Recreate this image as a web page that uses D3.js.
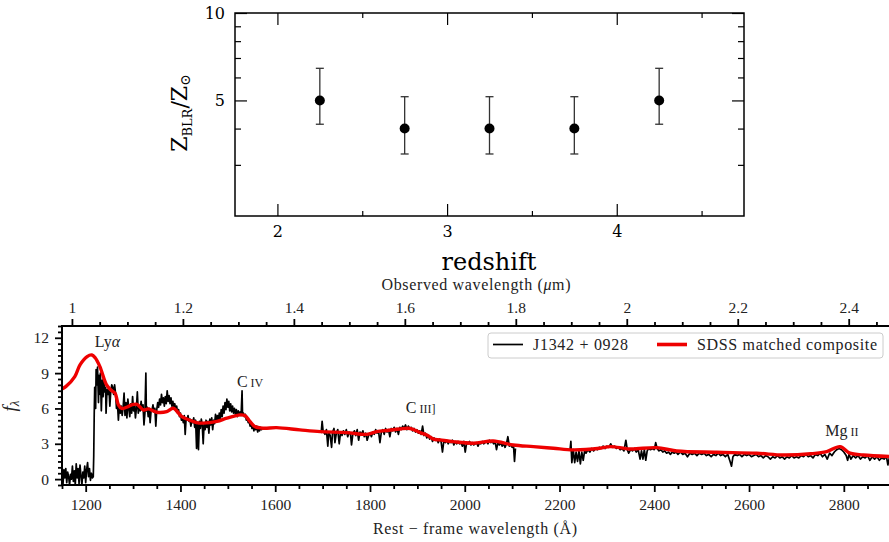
<!DOCTYPE html>
<html><head><meta charset="utf-8">
<script src="https://cdn.jsdelivr.net/npm/d3@7"></script>
<style>body{margin:0;background:#fff}svg{display:block}</style>
</head><body>
<svg id="c" width="889" height="542"></svg>
<script>
// ---------- top panel data ----------
const redshift = [2.25, 2.75, 3.25, 3.75, 4.25];
const zRatio   = [5, 4, 4, 4, 5];
const zLow     = [4.14, 3.27, 3.27, 3.27, 4.14];
const zHigh    = [6.45, 5.15, 5.15, 5.15, 6.45];
const zXMajor  = [2, 3, 4];
const zXMinor  = [2.5, 3.5, 4.5];
const zYMajor  = [5, 10];
const zYMinor  = [3, 4, 6, 7, 8, 9];

// ---------- bottom panel data ----------
const restMajor = [1200, 1400, 1600, 1800, 2000, 2200, 2400, 2600, 2800];
const obsMajor  = [1, 1.2, 1.4, 1.6, 1.8, 2, 2.2, 2.4];
const fluxMajor = [0, 3, 6, 9, 12];
const zQSO = 7.54;

// composite (red) [rest wavelength, f_lambda]
const compLam = [1150,1158,1177,1188,1203,1213,1220,1230,1244,1255,1262,1269,1276,1286,1297,1308,1322,1332,1350,1371,1385,1403,1420,1434,1448,1477,1498,1526,1536,1547,1557,1575,1603,1652,1695,1750,1793,1814,1840,1863,1885,1906,1920,1934,1948,1976,2018,2060,2102,2145,2187,2229,2285,2307,2349,2405,2447,2532,2616,2672,2730,2764,2792,2813,2841,2900];
const compFlux = [7.66,7.85,8.7,9.7,10.4,10.54,10.3,9.55,8.0,7.5,7.3,6.3,6.0,6.1,6.3,6.35,5.87,5.96,5.68,5.73,6.02,5.3,5.0,4.8,4.75,4.9,5.17,5.45,5.4,4.88,4.46,4.32,4.37,4.18,4.03,3.95,3.8,4.03,4.15,4.26,4.3,3.95,3.75,3.4,3.33,3.18,3.05,3.24,2.9,2.76,2.62,2.48,2.62,2.76,2.56,2.67,2.39,2.28,2.2,2.05,2.15,2.33,2.76,2.2,2.05,1.91];

// observed spectrum J1342+0928, segment 1 (1150-1575 A)
const spec1 = [[1150,0.2],[1152,-0.5],[1154,0.8],[1156,0.1],[1158,0.9],[1160,-0.3],[1162,0.6],[1164,0.2],[1166,-0.5],[1168,0.4],[1170,0.0],[1172,1.1],[1174,-0.2],[1176,0.7],[1178,-0.5],[1180,1.3],[1182,0.1],[1184,0.9],[1186,-0.4],[1188,1.2],[1190,0.3],[1192,-0.5],[1194,0.6],[1196,0.1],[1198,1.1],[1200,-0.3],[1202,0.8],[1204,1.4],[1206,0.2],[1208,0.9],[1210,-0.1],[1212,0.5],[1214,0.1],[1216,0.2],
[1217,2.0],[1218,5.5],[1219,7.8],[1221,6.0],[1222,9.3],[1224,8.0],[1225,9.5],[1227,6.5],[1228,8.8],[1230,7.2],[1231,9.0],[1233,5.8],[1235,8.4],[1237,7.0],[1238,8.6],[1240,7.4],[1242,7.8],[1243,5.6],[1245,7.6],[1247,7.2],[1249,7.8],[1251,6.2],[1253,7.5],[1255,8.0],[1257,7.8],[1259,7.2],[1261,8.0],[1263,7.3],[1265,6.0],[1267,6.5],[1269,5.0],[1271,6.3],[1273,5.6],[1275,6.2],[1277,5.4],[1279,6.1],[1281,7.3],[1283,5.4],[1285,6.5],[1287,5.2],[1289,6.8],[1291,6.0],[1293,5.3],[1295,6.4],[1297,5.6],[1299,7.0],[1301,5.8],[1303,6.3],[1305,5.2],[1307,6.0],[1309,7.4],[1311,5.6],[1313,6.2],[1315,5.8],[1317,6.6],[1319,5.9],[1321,6.3],[1323,4.6],[1325,5.6],[1327,9.0],[1328,5.8],[1330,6.1],[1332,5.3],[1334,6.0],[1336,4.8],[1338,5.8],[1340,5.9],[1342,6.3],[1344,5.7],[1346,6.0],[1348,4.5],[1350,5.9],[1352,6.5],[1354,6.1],[1356,6.8],[1358,6.3],[1360,7.2],[1362,6.5],[1364,6.9],[1366,6.2],[1368,7.0],[1370,6.4],[1372,7.5],[1374,6.6],[1376,7.1],[1378,6.4],[1380,6.9],[1382,6.2],[1384,6.6],[1386,6.0],[1388,6.4],[1390,5.8],[1392,6.2],[1394,5.6],[1396,5.9],[1398,5.3],[1400,5.6],[1402,5.0],[1404,5.3],[1406,4.8],[1408,5.4],[1410,3.8],[1412,5.2],[1414,5.0],[1416,5.4],[1418,4.9],[1420,5.1],[1422,4.5],[1424,5.0],[1426,4.8],[1428,5.2],[1430,4.4],[1432,5.0],[1434,2.6],[1436,4.7],[1438,2.5],[1440,4.9],[1442,4.3],[1444,5.1],[1446,4.6],[1448,3.0],[1450,4.8],[1452,4.2],[1454,5.0],[1456,4.4],[1458,4.9],[1460,3.9],[1462,5.1],[1464,4.6],[1466,5.2],[1468,4.2],[1470,5.0],[1472,4.7],[1474,5.5],[1476,4.9],[1478,5.4],[1480,5.0],[1482,5.6],[1484,5.1],[1486,5.9],[1488,5.3],[1490,6.2],[1492,5.6],[1494,6.5],[1496,5.9],[1498,6.8],[1500,6.1],[1502,6.6],[1504,5.8],[1506,6.4],[1508,5.7],[1510,6.2],[1512,5.6],[1514,6.0],[1516,5.5],[1518,5.9],[1520,5.3],[1522,5.8],[1524,5.5],[1526,5.7],[1528,5.4],[1530,7.5],[1531,5.5],[1533,5.6],[1535,5.3],[1537,5.5],[1539,5.0],[1541,5.2],[1543,4.8],[1545,4.9],[1547,4.5],[1549,4.7],[1551,4.3],[1553,4.5],[1555,4.1],[1557,4.4],[1559,4.2],[1561,4.5],[1563,4.0],[1565,4.3],[1567,4.1],[1569,4.4],[1571,4.2],[1573,4.3]];

// segment 2 (1697-2107 A)
const spec2 = [[1697,3.9],[1699,4.9],[1701,4.1],[1705,3.8],[1708,4.2],[1711,2.8],[1713,4.0],[1716,3.7],[1719,2.7],[1721,4.0],[1724,4.3],[1726,3.1],[1729,3.9],[1732,4.2],[1735,3.0],[1738,4.0],[1741,3.7],[1744,4.1],[1747,3.8],[1750,4.2],[1753,3.6],[1756,4.0],[1759,3.8],[1761,2.9],[1764,3.9],[1767,4.1],[1770,3.7],[1773,4.2],[1776,3.3],[1779,4.0],[1782,3.8],[1785,4.1],[1788,3.6],[1791,3.9],[1794,3.3],[1797,3.7],[1800,3.9],[1803,3.6],[1806,4.0],[1809,3.8],[1812,4.2],[1815,3.9],[1818,4.1],[1821,3.1],[1824,4.0],[1827,4.2],[1830,3.8],[1833,4.3],[1836,4.0],[1839,4.2],[1842,3.6],[1845,4.3],[1848,4.1],[1851,4.4],[1854,4.0],[1857,4.3],[1860,3.8],[1863,4.4],[1866,4.2],[1869,4.5],[1872,4.3],[1875,4.6],[1878,4.2],[1881,4.5],[1884,4.3],[1887,4.4],[1890,4.1],[1893,4.3],[1896,4.0],[1899,4.2],[1902,3.9],[1905,4.1],[1908,3.8],[1911,4.5],[1914,3.7],[1917,3.9],[1920,3.5],[1923,3.7],[1926,3.4],[1929,3.6],[1932,3.2],[1935,3.5],[1938,3.3],[1941,3.4],[1944,3.1],[1947,3.4],[1950,3.2],[1953,2.3],[1956,3.3],[1959,3.1],[1962,3.3],[1965,3.0],[1968,3.2],[1971,3.1],[1974,3.3],[1977,2.9],[1980,3.2],[1983,3.0],[1986,3.2],[1989,3.0],[1992,3.1],[1995,2.8],[1998,3.2],[2001,2.3],[2004,3.1],[2007,3.0],[2010,3.2],[2013,2.9],[2016,3.1],[2019,2.9],[2022,3.0],[2025,3.1],[2028,2.8],[2031,3.1],[2034,3.0],[2037,3.2],[2040,3.0],[2043,3.1],[2046,3.2],[2049,3.0],[2052,3.3],[2055,3.1],[2058,3.2],[2061,3.0],[2064,3.2],[2067,2.5],[2070,3.1],[2073,2.9],[2076,3.1],[2079,2.8],[2082,3.0],[2085,2.7],[2088,3.0],[2091,3.6],[2094,2.8],[2097,2.9],[2100,2.7],[2103,2.8],[2105,1.5],[2107,2.6]];

// segment 3 (2222-2900 A)
const spec3 = [[2222,2.4],[2224,3.2],[2226,1.4],[2229,2.5],[2232,1.4],[2235,2.3],[2238,1.5],[2241,2.4],[2244,1.3],[2247,2.3],[2250,1.6],[2253,2.4],[2256,2.2],[2260,2.5],[2264,2.3],[2268,2.6],[2272,2.4],[2276,2.6],[2280,2.5],[2284,2.7],[2288,2.6],[2292,2.8],[2296,2.6],[2300,2.8],[2304,2.7],[2308,3.0],[2312,2.7],[2316,2.8],[2320,2.6],[2324,2.7],[2328,2.5],[2332,2.6],[2336,2.4],[2340,3.3],[2343,2.5],[2346,2.2],[2350,2.5],[2354,2.4],[2358,2.6],[2362,2.3],[2366,2.5],[2370,1.7],[2373,2.4],[2376,1.7],[2379,2.5],[2382,1.6],[2385,2.4],[2388,2.6],[2392,2.5],[2396,2.6],[2400,2.5],[2403,3.1],[2406,2.6],[2410,2.4],[2414,2.5],[2418,2.3],[2422,2.4],[2426,2.2],[2430,2.3],[2434,2.1],[2438,2.3],[2442,2.2],[2446,2.3],[2450,2.1],[2455,2.3],[2460,2.1],[2465,2.2],[2470,1.9],[2475,2.2],[2480,2.1],[2485,2.2],[2490,2.0],[2495,2.2],[2500,2.1],[2505,2.2],[2510,2.0],[2515,2.1],[2520,1.9],[2525,2.1],[2530,2.0],[2535,2.2],[2540,2.0],[2545,2.1],[2550,1.9],[2555,2.1],[2560,1.5],[2563,1.1],[2566,1.9],[2570,2.1],[2575,2.0],[2580,2.1],[2585,1.9],[2590,2.1],[2595,2.0],[2600,2.1],[2605,1.9],[2610,2.0],[2615,2.1],[2620,1.9],[2625,2.0],[2630,1.8],[2635,2.0],[2640,1.9],[2645,1.7],[2650,1.9],[2655,1.8],[2660,2.0],[2665,1.8],[2670,1.9],[2675,1.7],[2680,1.9],[2685,1.8],[2690,2.0],[2695,1.8],[2700,1.9],[2705,1.8],[2710,2.0],[2715,1.9],[2720,2.1],[2725,1.9],[2730,2.0],[2735,1.8],[2740,2.1],[2745,2.0],[2750,2.2],[2755,1.9],[2760,2.1],[2765,1.7],[2770,2.2],[2775,2.0],[2780,2.3],[2785,2.5],[2790,2.6],[2795,2.5],[2800,2.3],[2805,2.0],[2808,1.6],[2811,2.1],[2815,1.7],[2820,2.0],[2825,1.8],[2830,2.0],[2835,1.7],[2840,1.9],[2845,1.8],[2850,2.0],[2855,1.6],[2860,1.9],[2865,1.7],[2870,1.9],[2875,1.6],[2880,1.8],[2885,1.7],[2890,1.9],[2893,1.2],[2896,1.8],[2900,1.7]];

const lineLabels = [
  {lam: 1246, f: 11.22, main: "Ly", greek: "α", sc: ""},
  {lam: 1547, f: 7.83,  main: "C", sc: "IV"},
  {lam: 1907, f: 5.62,  main: "C", sc: "III]"},
  {lam: 2796, f: 3.67,  main: "Mg", sc: "II"}
];

const svg = d3.select("#c");
const topFont = "'DejaVu Serif', serif";
const botFont = "'Liberation Serif', 'Times New Roman', serif";

// ================= TOP PANEL =================
const tx = d3.scaleLinear().domain([1.75, 4.75]).range([235, 744]);
const ty = d3.scaleLog().domain([2, 10]).range([216, 13]);
const topG = svg.append("g");

function styleAxis(g, font, size) {
  g.select(".domain").remove();
  g.selectAll("line").attr("stroke", "#000").attr("stroke-width", 1.2);
  g.selectAll("text").attr("font-family", font).attr("font-size", size).attr("fill", "#000");
}
topG.append("g").attr("transform", "translate(0,216)")
  .call(d3.axisBottom(tx).tickValues(zXMajor).tickFormat(d3.format("d")).tickSizeInner(-12).tickSizeOuter(0).tickPadding(10))
  .call(g => styleAxis(g, topFont, 16));
topG.append("g").attr("transform", "translate(0,216)")
  .call(d3.axisBottom(tx).tickValues(zXMinor).tickFormat("").tickSizeInner(-5).tickSizeOuter(0))
  .call(g => styleAxis(g, topFont, 16));
topG.append("g").attr("transform", "translate(0,13)")
  .call(d3.axisTop(tx).tickValues(zXMajor).tickFormat("").tickSizeInner(-12).tickSizeOuter(0))
  .call(g => styleAxis(g, topFont, 16));
topG.append("g").attr("transform", "translate(0,13)")
  .call(d3.axisTop(tx).tickValues(zXMinor).tickFormat("").tickSizeInner(-5).tickSizeOuter(0))
  .call(g => styleAxis(g, topFont, 16));
topG.append("g").attr("transform", "translate(235,0)")
  .call(d3.axisLeft(ty).tickValues(zYMajor).tickFormat(d3.format("d")).tickSizeInner(-12).tickSizeOuter(0).tickPadding(10))
  .call(g => styleAxis(g, topFont, 16));
topG.append("g").attr("transform", "translate(235,0)")
  .call(d3.axisLeft(ty).tickValues(zYMinor).tickFormat("").tickSizeInner(-6).tickSizeOuter(0))
  .call(g => styleAxis(g, topFont, 16));
topG.append("g").attr("transform", "translate(744,0)")
  .call(d3.axisRight(ty).tickValues(zYMajor).tickFormat("").tickSizeInner(-12).tickSizeOuter(0))
  .call(g => styleAxis(g, topFont, 16));
topG.append("g").attr("transform", "translate(744,0)")
  .call(d3.axisRight(ty).tickValues(zYMinor).tickFormat("").tickSizeInner(-6).tickSizeOuter(0))
  .call(g => styleAxis(g, topFont, 16));
topG.append("rect").attr("x", 235).attr("y", 13).attr("width", 744 - 235).attr("height", 216 - 13)
  .attr("fill", "none").attr("stroke", "#000").attr("stroke-width", 1.5);

const pts = redshift.map((z, i) => ({z, v: zRatio[i], lo: zLow[i], hi: zHigh[i]}));
const eb = topG.append("g").attr("stroke", "#333").attr("stroke-width", 1.3);
eb.selectAll("line.v").data(pts).join("line").attr("class", "v")
  .attr("x1", d => tx(d.z)).attr("x2", d => tx(d.z)).attr("y1", d => ty(d.lo)).attr("y2", d => ty(d.hi));
eb.selectAll("line.h").data(pts).join("line").attr("class", "h")
  .attr("x1", d => tx(d.z) - 4).attr("x2", d => tx(d.z) + 4).attr("y1", d => ty(d.hi)).attr("y2", d => ty(d.hi));
eb.selectAll("line.l").data(pts).join("line").attr("class", "l")
  .attr("x1", d => tx(d.z) - 4).attr("x2", d => tx(d.z) + 4).attr("y1", d => ty(d.lo)).attr("y2", d => ty(d.lo));
topG.selectAll("circle").data(pts).join("circle")
  .attr("cx", d => tx(d.z)).attr("cy", d => ty(d.v)).attr("r", 5).attr("fill", "#000");

topG.append("text").attr("x", 489).attr("y", 270).attr("text-anchor", "middle")
  .attr("font-family", topFont).attr("font-size", 24).attr("font-weight", "normal").text("redshift");
const yl = topG.append("text").attr("transform", "translate(187,113) rotate(-90)").attr("text-anchor", "middle")
  .attr("font-family", topFont).attr("font-size", 22);
yl.append("tspan").text("Z");
yl.append("tspan").attr("font-size", 13).attr("dy", 5).text("BLR");
yl.append("tspan").attr("dy", -5).text("/Z");
yl.append("tspan").attr("font-size", 14).attr("dy", 3).text("⊙");

// ================= BOTTOM PANEL =================
const L = 62, R = 891.2, T = 326, B = 485;
const bx = d3.scaleLinear().domain([1150, 2900]).range([L, R]);
const bxObs = d3.scaleLinear().domain([1150 * (1 + zQSO) / 1e4, 2900 * (1 + zQSO) / 1e4]).range([L, R]);
const by = d3.scaleLinear().domain([-0.5, 13]).range([B, T]);
const bot = svg.append("g");

const restMinor = d3.range(1150, 2901, 50).filter(v => !restMajor.includes(v));
const obsMinor = d3.range(1, 2.48, 0.05).map(v => +v.toFixed(2)).filter(v => !obsMajor.some(m => Math.abs(m - v) < 1e-6));
const fluxMinor = d3.range(-0.5, 13.01, 0.5).filter(v => !fluxMajor.includes(v));

function styleB(g) {
  g.select(".domain").remove();
  g.selectAll("line").attr("stroke", "#000").attr("stroke-width", 1.8);
  g.selectAll("text").attr("font-family", botFont).attr("font-size", 15.5).attr("fill", "#222");
}
bot.append("g").attr("transform", `translate(0,${B})`)
  .call(d3.axisBottom(bx).tickValues(restMajor).tickFormat(d3.format("d")).tickSizeInner(7).tickSizeOuter(0).tickPadding(7))
  .call(styleB);
bot.append("g").attr("transform", `translate(0,${B})`)
  .call(d3.axisBottom(bx).tickValues(restMinor).tickFormat("").tickSizeInner(4).tickSizeOuter(0))
  .call(styleB);
bot.append("g").attr("transform", `translate(0,${T})`)
  .call(d3.axisTop(bxObs).tickValues(obsMajor).tickFormat(d => d3.format("~g")(d)).tickSizeInner(7).tickSizeOuter(0).tickPadding(6))
  .call(styleB);
bot.append("g").attr("transform", `translate(0,${T})`)
  .call(d3.axisTop(bxObs).tickValues(obsMinor).tickFormat("").tickSizeInner(4).tickSizeOuter(0))
  .call(styleB);
bot.append("g").attr("transform", `translate(${L},0)`)
  .call(d3.axisLeft(by).tickValues(fluxMajor).tickFormat(d3.format("d")).tickSizeInner(7).tickSizeOuter(0).tickPadding(6))
  .call(styleB);
bot.append("g").attr("transform", `translate(${L},0)`)
  .call(d3.axisLeft(by).tickValues(fluxMinor).tickFormat("").tickSizeInner(4).tickSizeOuter(0))
  .call(styleB);

svg.append("defs").append("clipPath").attr("id", "clipB")
  .append("rect").attr("x", L).attr("y", T).attr("width", R - L).attr("height", B - T);
const plot = bot.append("g").attr("clip-path", "url(#clipB)");

const specLine = d3.line().x(d => bx(d[0])).y(d => by(d[1]));
[spec1, spec2, spec3].forEach(seg => {
  plot.append("path").datum(seg).attr("d", specLine)
    .attr("fill", "none").attr("stroke", "#000").attr("stroke-width", 1.7).attr("stroke-linejoin", "round");
});
const comp = compLam.map((l, i) => [l, compFlux[i]]);
plot.append("path").datum(comp)
  .attr("d", d3.line().x(d => bx(d[0])).y(d => by(d[1])).curve(d3.curveCatmullRom.alpha(0.5)))
  .attr("fill", "none").attr("stroke", "#ee0000").attr("stroke-width", 3.4).attr("stroke-linejoin", "round");

bot.append("rect").attr("x", L).attr("y", T).attr("width", R - L).attr("height", B - T)
  .attr("fill", "none").attr("stroke", "#000").attr("stroke-width", 2);

lineLabels.forEach(d => {
  const t = bot.append("text").attr("x", bx(d.lam)).attr("y", by(d.f)).attr("text-anchor", "middle")
    .attr("font-family", botFont).attr("font-size", 16).attr("fill", "#222");
  t.append("tspan").text(d.main);
  if (d.greek) t.append("tspan").attr("font-style", "italic").text(d.greek);
  if (d.sc) t.append("tspan").attr("font-size", 12).text(" " + d.sc);
});

const ot = bot.append("text").attr("x", 476).attr("y", 290).attr("text-anchor", "middle")
  .attr("font-family", botFont).attr("font-size", 16).attr("fill", "#222")
  .attr("textLength", 189).attr("lengthAdjust", "spacing");
ot.append("tspan").text("Observed wavelength (");
ot.append("tspan").attr("font-style", "italic").text("μ");
ot.append("tspan").text("m)");
bot.append("text").attr("x", 475).attr("y", 534).attr("text-anchor", "middle")
  .attr("font-family", botFont).attr("font-size", 16).attr("fill", "#222")
  .attr("textLength", 204).attr("lengthAdjust", "spacing")
  .text("Rest − frame wavelength (Å)");
const fl = bot.append("text").attr("transform", "translate(16,406) rotate(-90)").attr("text-anchor", "middle")
  .attr("font-family", botFont).attr("font-size", 19).attr("fill", "#222");
fl.append("tspan").attr("font-style", "italic").text("f");
fl.append("tspan").attr("font-style", "italic").attr("font-size", 13).attr("dy", 3).text("λ");

const lg = bot.append("g");
lg.append("rect").attr("x", 488).attr("y", 333).attr("width", 395).attr("height", 25).attr("rx", 3)
  .attr("fill", "#fff").attr("fill-opacity", 0.9).attr("stroke", "#ccc").attr("stroke-width", 1);
lg.append("line").attr("x1", 493).attr("x2", 523).attr("y1", 344.5).attr("y2", 344.5).attr("stroke", "#000").attr("stroke-width", 1.7);
lg.append("text").attr("x", 533).attr("y", 350).attr("font-family", botFont).attr("font-size", 16).attr("fill", "#222")
  .attr("textLength", 95).attr("lengthAdjust", "spacing").text("J1342 + 0928");
lg.append("line").attr("x1", 657).attr("x2", 687).attr("y1", 344.5).attr("y2", 344.5).attr("stroke", "#ee0000").attr("stroke-width", 3.6);
lg.append("text").attr("x", 697).attr("y", 350).attr("font-family", botFont).attr("font-size", 16).attr("fill", "#222")
  .attr("textLength", 180).attr("lengthAdjust", "spacing").text("SDSS matched composite");
</script>
</body></html>
